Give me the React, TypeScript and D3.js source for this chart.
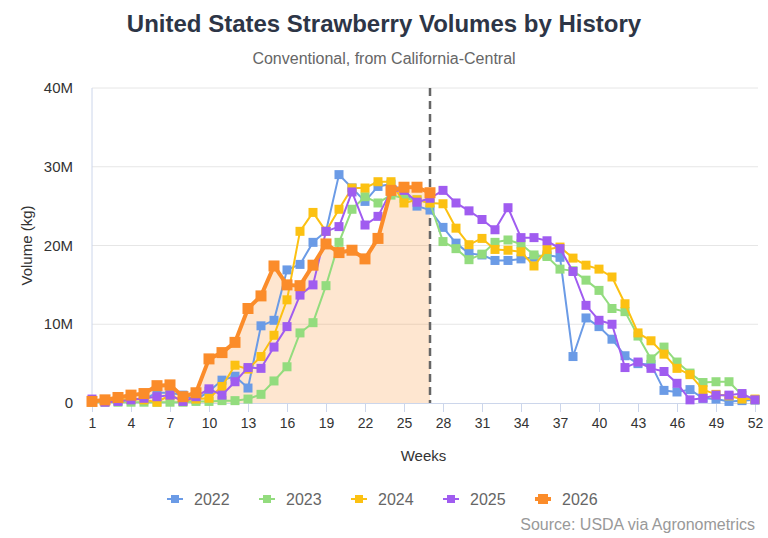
import { useEffect, useRef } from 'react';
import * as d3 from 'd3';

const weeks = d3.range(1, 53);
const tickWeeks = [1, 4, 7, 10, 13, 16, 19, 22, 25, 28, 31, 34, 37, 40, 43, 46, 49, 52];
const yTicks = [0, 10e6, 20e6, 30e6, 40e6];
const currentWeek = 27;

// values in millions of kg, week 1..52
const v2022 = [
  0.2, 0.2, 0.3, 0.5, 0.5, 1.3, 1.3, 1.0, 0.4, 1.5, 2.9, 3.4, 1.9, 9.8, 10.5, 16.9, 17.6, 20.4,
  21.8, 29.0, 27.3, 25.6, 27.5, 27.8, 26.9, 25.0, 24.5, 22.3, 20.3, 19.0, 18.8, 18.1, 18.1, 18.3,
  18.5, 18.8, 18.5, 5.9, 10.8, 9.7, 8.1, 6.0, 5.0, 4.9, 1.6, 1.4, 1.7, 0.6, 0.5, 0.2, 0.3, 0.4,
];
const v2023 = [
  0.1, 0.1, 0.1, 0.1, 0.1, 0.1, 0.1, 0.1, 0.2, 0.2, 0.3, 0.3, 0.5, 1.1, 2.8, 4.6, 8.9, 10.2,
  14.9, 20.4, 24.6, 26.2, 25.4, 26.4, 26.0, 25.8, 25.4, 20.5, 19.6, 18.2, 18.9, 20.4, 20.7, 20.2,
  18.8, 18.6, 17.0, 16.8, 15.6, 14.3, 12.0, 11.6, 8.5, 5.6, 7.1, 5.2, 3.8, 2.6, 2.7, 2.7, 1.0, 0.4,
];
const v2024 = [
  0.2, 0.3, 0.4, 0.5, 0.4, 0.1, 1.0, 0.3, 0.5, 0.6, 2.1, 4.8, 4.3, 5.9, 8.6, 13.1, 21.8, 24.2,
  21.8, 24.6, 27.3, 27.3, 28.1, 28.1, 25.4, 25.8, 25.4, 25.3, 22.2, 20.1, 20.9, 19.5, 19.4, 19.2,
  17.4, 19.5, 19.8, 18.4, 17.5, 17.0, 16.0, 12.6, 8.9, 7.9, 6.2, 4.4, 3.6, 1.7, 1.1, 0.9, 0.5, 0.5,
];
const v2025 = [
  0.5, 0.1, 0.2, 0.4, 0.6, 0.8, 1.0, 0.2, 0.8, 1.8, 1.0, 2.7, 4.5, 4.4, 7.1, 9.7, 13.7, 15.0,
  21.8, 22.4, 26.8, 22.6, 23.7, 26.9, 27.0, 25.5, 26.0, 27.0, 25.4, 24.4, 23.3, 22.0, 24.8, 21.0,
  21.0, 20.6, 19.6, 16.7, 12.4, 10.5, 10.0, 4.5, 5.2, 4.4, 4.0, 2.5, 0.4, 0.6, 1.0, 1.0, 1.2, 0.4,
];
const v2026 = [
  0.2, 0.4, 0.7, 1.0, 1.2, 2.2, 2.3, 0.8, 1.3, 5.6, 6.4, 7.7, 12.0, 13.6, 17.4, 15.0, 14.9, 17.5,
  20.2, 19.1, 19.4, 18.3, 20.9, 27.0, 27.4, 27.4, 26.7,
];

const seriesNames = ['2022', '2023', '2024', '2025', '2026'];
const seriesValues = [v2022, v2023, v2024, v2025, v2026];
const seriesColors = ['#6b9be6', '#93dc7e', '#fcc112', '#a05cf0', '#fb8c2a'];

const W = 768;
const H = 538;
const FONT = '"Liberation Sans", Arial, Helvetica, sans-serif';

const App = () => {
  const ref = useRef<SVGSVGElement>(null);

  useEffect(() => {
    const svg = d3.select(ref.current);
    svg.selectAll('*').remove();

    const left = 92;
    const right = 758;
    const top = 88;
    const bottom = 403;

    const x = d3.scaleLinear().domain([1, 52]).range([left, 755]);
    const y = d3.scaleLinear().domain([0, 40e6]).range([bottom, top]);

    // titles
    svg
      .append('text')
      .attr('x', W / 2)
      .attr('y', 32)
      .attr('text-anchor', 'middle')
      .attr('font-size', 24)
      .attr('font-weight', 'bold')
      .attr('fill', '#2d3546')
      .text('United States Strawberry Volumes by History');

    svg
      .append('text')
      .attr('x', W / 2)
      .attr('y', 64)
      .attr('text-anchor', 'middle')
      .attr('font-size', 16)
      .attr('fill', '#666')
      .text('Conventional, from California-Central');

    // grid
    svg
      .append('g')
      .selectAll('line')
      .data(yTicks.filter((t) => t > 0))
      .join('line')
      .attr('x1', left)
      .attr('x2', right)
      .attr('y1', (d) => y(d))
      .attr('y2', (d) => y(d))
      .attr('stroke', '#e6e6e6');

    // y labels
    svg
      .append('g')
      .selectAll('text')
      .data(yTicks)
      .join('text')
      .attr('x', 73)
      .attr('y', (d) => y(d) + 5)
      .attr('text-anchor', 'end')
      .attr('font-size', 15)
      .attr('fill', '#333')
      .text((d) => (d === 0 ? '0' : `${d / 1e6}M`));

    svg
      .append('text')
      .attr('transform', `translate(32,${(top + bottom) / 2}) rotate(-90)`)
      .attr('text-anchor', 'middle')
      .attr('font-size', 15)
      .attr('fill', '#333')
      .text('Volume (kg)');

    // area under current year
    const pts26 = v2026.map((v, i) => ({ w: weeks[i], v: v * 1e6 }));
    svg
      .append('path')
      .datum(pts26)
      .attr('fill', '#fb8c2a')
      .attr('fill-opacity', 0.22)
      .attr(
        'd',
        d3
          .area<{ w: number; v: number }>()
          .x((d) => x(d.w))
          .y0(y(0))
          .y1((d) => y(d.v))
      );

    // axes lines
    svg
      .append('line')
      .attr('x1', left)
      .attr('x2', left)
      .attr('y1', top)
      .attr('y2', bottom)
      .attr('stroke', '#ccd6eb');

    const xAxis = svg
      .append('g')
      .attr('transform', `translate(0,${bottom})`)
      .call(
        d3
          .axisBottom(x)
          .tickValues(tickWeeks)
          .tickSize(9)
          .tickPadding(6)
          .tickFormat((d) => String(d))
      );
    xAxis.select('.domain').attr('d', `M${left},0.5H${right}`).attr('stroke', '#ccd6eb');
    xAxis.selectAll('.tick line').attr('stroke', '#ccd6eb');
    xAxis
      .selectAll('.tick text')
      .attr('font-size', 14)
      .attr('font-family', FONT)
      .attr('fill', '#333');

    svg
      .append('text')
      .attr('x', (left + 755) / 2)
      .attr('y', 461)
      .attr('text-anchor', 'middle')
      .attr('font-size', 15)
      .attr('fill', '#333')
      .text('Weeks');

    // current week marker
    svg
      .append('line')
      .attr('x1', x(currentWeek))
      .attr('x2', x(currentWeek))
      .attr('y1', top)
      .attr('y2', bottom)
      .attr('stroke', '#666')
      .attr('stroke-width', 2.5)
      .attr('stroke-dasharray', '8,5');

    // series
    seriesValues.forEach((vals, si) => {
      const isCurrent = si === 4;
      const pts = vals.map((v, i) => ({ w: weeks[i], v: v * 1e6 }));
      const color = seriesColors[si];
      const size = isCurrent ? 11 : 9;
      const g = svg.append('g');
      g.append('path')
        .datum(pts)
        .attr('fill', 'none')
        .attr('stroke', color)
        .attr('stroke-width', isCurrent ? 4 : 2)
        .attr('stroke-linejoin', 'round')
        .attr(
          'd',
          d3
            .line<{ w: number; v: number }>()
            .x((d) => x(d.w))
            .y((d) => y(d.v))
        );
      g.selectAll('rect')
        .data(pts)
        .join('rect')
        .attr('x', (d) => x(d.w) - size / 2)
        .attr('y', (d) => y(d.v) - size / 2)
        .attr('width', size)
        .attr('height', size)
        .attr('fill', color);
    });

    // legend
    const legend = svg.append('g');
    seriesNames.forEach((name, i) => {
      const lx = 167 + i * 92;
      const ly = 499;
      const isCurrent = i === 4;
      const color = seriesColors[i];
      legend
        .append('line')
        .attr('x1', lx)
        .attr('x2', lx + 16)
        .attr('y1', ly)
        .attr('y2', ly)
        .attr('stroke', color)
        .attr('stroke-width', isCurrent ? 4 : 2);
      const s = isCurrent ? 10 : 8;
      legend
        .append('rect')
        .attr('x', lx + 8 - s / 2)
        .attr('y', ly - s / 2)
        .attr('width', s)
        .attr('height', s)
        .attr('fill', color);
      legend
        .append('text')
        .attr('x', lx + 27)
        .attr('y', ly + 6)
        .attr('font-size', 16)
        .attr('fill', '#666')
        .text(name);
    });

    svg
      .append('text')
      .attr('x', 755)
      .attr('y', 530)
      .attr('text-anchor', 'end')
      .attr('font-size', 16)
      .attr('fill', '#999')
      .text('Source: USDA via Agronometrics');
  }, []);

  return (
    <svg
      ref={ref}
      width={W}
      height={H}
      style={{ position: 'absolute', left: 0, top: 0, background: '#fff' }}
      fontFamily={FONT}
    />
  );
};

export default App;
